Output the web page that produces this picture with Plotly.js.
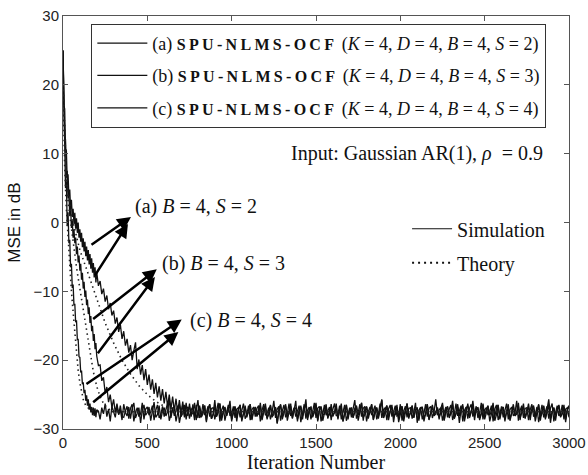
<!DOCTYPE html>
<html>
<head>
<meta charset="utf-8">
<script src="https://cdn.plot.ly/plotly-3.0.1.min.js"></script>
<style>html,body{margin:0;padding:0;background:#fff;}#chart{width:588px;height:475px;}</style>
</head>
<body>
<div id="chart"></div>
<script>
// Iteration numbers (early dense part and later part)
const iterEarly = [0,5,10,15,20,25,30,35,40,45,50,55,60,65,70,75,80,85,90,95,100,105,110,115,120,125,130,135,140,145,150,155,160,165,170,175,180,185,190,195,200];
const iterLate = [210,220,230,240,250,260,270,280,290,300,
310,320,330,340,350,360,370,380,390,400,
410,420,430,440,450,460,470,480,490,500,
510,520,530,540,550,560,570,580,590,600,
610,620,630,640,650,660,670,680,690,700,
710,720,730,740,750,760,770,780,790,800,
810,820,830,840,850,860,870,880,890,900,
910,920,930,940,950,960,970,980,990,1000,
1010,1020,1030,1040,1050,1060,1070,1080,1090,1100,
1110,1120,1130,1140,1150,1160,1170,1180,1190,1200,
1210,1220,1230,1240,1250,1260,1270,1280,1290,1300,
1310,1320,1330,1340,1350,1360,1370,1380,1390,1400,
1410,1420,1430,1440,1450,1460,1470,1480,1490,1500,
1510,1520,1530,1540,1550,1560,1570,1580,1590,1600,
1610,1620,1630,1640,1650,1660,1670,1680,1690,1700,
1710,1720,1730,1740,1750,1760,1770,1780,1790,1800,
1810,1820,1830,1840,1850,1860,1870,1880,1890,1900,
1910,1920,1930,1940,1950,1960,1970,1980,1990,2000,
2010,2020,2030,2040,2050,2060,2070,2080,2090,2100,
2110,2120,2130,2140,2150,2160,2170,2180,2190,2200,
2210,2220,2230,2240,2250,2260,2270,2280,2290,2300,
2310,2320,2330,2340,2350,2360,2370,2380,2390,2400,
2410,2420,2430,2440,2450,2460,2470,2480,2490,2500,
2510,2520,2530,2540,2550,2560,2570,2580,2590,2600,
2610,2620,2630,2640,2650,2660,2670,2680,2690,2700,
2710,2720,2730,2740,2750,2760,2770,2780,2790,2800,
2810,2820,2830,2840,2850,2860,2870,2880,2890,2900,
2910,2920,2930,2940,2950,2960,2970,2980,2990,3000];

// (a) S=2 simulation MSE (dB)
const simAEarly = [25,17,16.5,10.5,10.5,6,7,3.8,4.8,2,
3.3,0.8,2,-0.2,1.4,-0.9,0.6,-1.5,0,-2.2,
-1,-2.8,-1.5,-3.6,-2.3,-4.2,-2.8,-4.9,-3.5,-5.5,
-4,-6.1,-4.6,-6.7,-5.2,-7.3,-5.9,-8,-6.5,-8.7,-7.2];
const simALate = [-9.2,-8.5,-10.4,-9.6,-11.5,-10.6,-12.6,-11.7,-13.5,-12.8,
-14.7,-13.8,-15.9,-14.8,-16.9,-15.8,-17.9,-16.9,-18.9,-17.8,
-20.0,-18.6,-17.4,-21.3,-19.9,-22.1,-20.7,-22.9,-21.3,-23.6,
-22.1,-24.3,-22.8,-24.9,-23.3,-25.4,-23.8,-25.9,-24.2,-26.3,
-24.6,-26.7,-25.0,-27.1,-25.3,-27.4,-25.6,-27.6,-25.8,-27.8,
-26.0,-28.0,-26.2,-28.1,-26.3,-28.2,-26.4,-28.3,-26.5,-28.4,
-26.6,
-28.0,-27.5,-26.6,-28.8,-27.2,-26.4,-28.5,-27.9,-25.8,-28.2,
-27.6,-26.3,-28.4,-27.7,-26.8,-28.1,-27.0,-26.7,-28.9,-27.4,
-26.7,-28.9,-27.2,-26.5,-28.6,-27.8,-26.9,-28.0,-27.5,-26.4,
-28.5,-27.3,-26.8,-28.2,-27.1,-26.6,-28.7,-27.6,-26.3,-28.4,
-27.9,-26.6,-28.3,-27.4,-26.9,-29.2,-27.0,-26.5,-28.6,-27.7,
-26.4,-28.2,-27.8,-26.7,-28.5,-27.3,-25.9,-28.9,-27.1,-26.8,
-28.6,-27.0,-26.5,-28.4,-27.6,-26.8,-28.1,-27.4,-26.2,-28.7,
-27.2,-26.9,-28.8,-27.5,-26.6,-28.3,-27.9,-26.4,-28.0,-27.6,
-26.8,-28.4,-27.1,-26.3,-28.9,-27.7,-26.5,-28.6,-27.2,-26.9,
-28.3,-27.6,-26.7,-28.0,-27.4,-26.2,-28.8,-27.0,-26.8,-28.5,
-27.5,-26.4,-28.6,-27.8,-26.9,-28.2,-27.3,-25.7,-28.4,-27.1,
-26.6,-28.7,-27.4,-26.8,-28.1,-27.9,-26.5,-29.0,-27.6,-26.7,
-28.2,-27.1,-26.3,-28.5,-27.7,-26.6,-28.3,-27.2,-26.9,-28.8,
-27.0,-26.8,-28.9,-27.3,-26.4,-28.6,-27.5,-26.7,-28.1,-27.8,
-26.9,-28.3,-27.6,-26.5,-28.7,-27.1,-26.8,-28.4,-27.4,-25.9,
-28.5,-27.8,-26.4,-28.1,-27.2,-26.7,-28.9,-27.6,-26.3,-28.2,
-27.3,-26.6,-28.7,-27.0,-26.9,-28.4,-27.7,-26.5,-28.6,-27.5,
-26.7,-28.0,-27.4,-26.2,-28.8,-27.9,-26.6,-28.3,-27.1,-26.8,
-28.9,-27.5,-26.8,-28.6,-27.3,-26.4,-28.1,-27.8,-26.7,-28.4,
-27.6,-26.3,-28.5,-27.2,-26.9,-28.7,-27.0,-26.6,-28.2,-27.7,
-26.5,-28.8,-27.3,-26.7,-28.4,-27.6,-26.4,-29.1,-27.5,-26.9,
-28.0,-27.4,-26.6,-28.3,-27.8,-26.5,-28.6,-27.2,-26.8];

// (b) S=3 simulation MSE (dB)
const simBEarly = [25,20.5,12,12,6.5,7.5,3.5,4.5,1,2.2,
-0.8,0.3,-2.2,-1,-3,-2.2,-4.6,-3.5,-5.8,-4.8,
-7,-6,-8.3,-7.3,-9.6,-8.6,-10.8,-9.9,-12,-11.2,
-13.3,-12.3,-14.6,-13.6,-15.8,-15,-17.2,-16.2,-18.4,-17.5,-19.4];
const simBLate = [-20.8,-20.7,-23.0,-22.5,-24.8,-23.9,-26.1,-25.0,-26.9,-25.7,
-27.6,-26.3,-27.9,-26.6,-28.2,
-28.3,-27.4,-26.7,-28.5,-27.0,-26.4,-28.9,-27.6,-26.9,-28.2,
-27.8,-26.2,-28.6,-27.1,-26.8,-28.0,-27.5,-26.6,-28.7,-27.3,
-26.5,-28.4,-27.9,-26.7,-28.2,-27.2,-26.3,-28.8,-27.6,-26.9,
-28.1,-27.3,-26.6,-29.1,-27.7,-26.5,-28.3,-27.0,-26.8,-28.5,
-27.2,-26.8,-28.7,-27.5,-25.8,-28.4,-27.9,-26.4,-28.0,-27.6,
-26.7,-28.2,-27.0,-26.9,-28.6,-27.4,-26.2,-28.9,-27.3,-26.6,
-28.8,-27.6,-26.5,-28.1,-27.8,-26.7,-28.4,-27.1,-26.9,-28.3,
-27.4,-26.3,-28.5,-27.9,-26.6,-28.7,-27.2,-26.8,-28.2,-27.0,
-26.6,-28.9,-27.3,-26.4,-28.0,-27.7,-26.9,-28.6,-27.5,-25.9,
-28.4,-27.1,-26.7,-28.8,-27.4,-26.5,-28.3,-27.8,-26.3,-28.1,
-27.7,-26.9,-28.2,-27.2,-26.6,-29.0,-27.6,-26.4,-28.5,-27.3,
-26.8,-28.6,-27.5,-26.2,-28.4,-27.0,-26.7,-28.9,-27.8,-26.5,
-28.0,-27.4,-26.8,-28.7,-27.1,-26.3,-28.1,-27.9,-26.6,-28.6,
-27.3,-26.5,-28.8,-27.6,-26.9,-28.3,-27.2,-25.8,-28.5,-27.7,
-26.4,-28.2,-27.0,-26.7,-28.9,-27.5,-26.8,-28.0,-27.3,-26.6,
-28.6,-27.8,-26.3,-28.4,-27.2,-26.9,-28.7,-27.1,-26.5,-28.2,
-27.5,-26.6,-28.1,-27.9,-26.4,-28.8,-27.4,-26.7,-28.3,-27.0,
-26.9,-28.5,-27.6,-26.2,-29.1,-27.3,-26.8,-28.6,-27.7,-26.4,
-28.2,-27.0,-26.7,-28.4,-27.5,-25.7,-28.0,-27.2,-26.9,-28.8,
-27.6,-26.8,-28.3,-27.1,-26.5,-28.7,-27.8,-26.3,-28.1,-27.4,
-26.6,-28.9,-27.3,-26.8,-28.5,-27.0,-26.4,-28.2,-27.6,-26.7,
-28.4,-27.7,-26.2,-28.6,-27.2,-26.9,-28.0,-27.5,-26.6,-28.9,
-27.1,-26.5,-28.7,-27.8,-26.7,-28.3,-27.4,-26.3,-28.6,-27.2,
-26.8,-28.1,-27.6,-25.9,-28.8,-27.3,-26.6,-28.4,-27.0,-26.9,
-28.7,-27.2,-26.4,-28.2,-27.9,-26.8,-29.0,-27.5,-26.5,-28.3,
-27.4,-26.7,-28.5,-27.0,-26.3,-28.9,-27.7,-26.6,-28.1,-27.8,
-26.5,-28.6,-27.1,-26.9,-28.3];

// (c) S=4 simulation MSE (dB)
const simCEarly = [25,13,11.5,5,6,-0.5,1.5,-3,-2.5,-6.5,
-6,-9.5,-9,-12,-11.8,-14.5,-14.2,-17,-17,-19.5,
-19.6,-21.8,-21.5,-23.5,-23.2,-24.8,-24.3,-25.9,-25.1,-26.6,
-25.7,-27.2,-26.3,-27.6,-26.8,-28,-26.9,-28.1,-27,-28.3,-27.2];
const simCLate = [-27.4,-28.6,-26.9,-27.8,-26.3,-28.2,-27.1,-28.9,-26.7,-27.5,
-28.3,-26.6,-27.9,-27.2,-28.7,-26.4,-27.6,-28.1,-26.8,-28.5,
-27.0,-26.2,-28.4,-27.7,-26.9,-29.1,-27.3,-26.5,-28.0,-27.6,
-26.8,-28.8,-27.2,-26.1,-28.3,-27.9,-26.6,-28.6,-27.4,-26.9,
-28.1,-27.5,-25.6,-28.4,-27.0,-26.7,-28.9,-27.3,-26.4,-28.2,
-27.7,-26.5,-28.6,-27.1,-26.8,-28.0,-27.6,-26.2,-28.7,-27.4,
-26.9,-28.3,-27.8,-26.6,-29.0,-27.2,-26.4,-28.5,-27.9,-26.7,
-28.2,-27.0,-26.3,-28.8,-27.5,-26.9,-28.1,-27.3,-25.9,-28.6,
-27.6,-26.8,-28.4,-27.1,-26.5,-28.9,-27.7,-26.6,-28.3,-27.2,
-26.4,-28.7,-27.4,-26.9,-28.0,-27.8,-26.2,-28.5,-27.0,-26.7,
-28.6,-27.3,-26.5,-28.2,-27.9,-26.8,-29.2,-27.5,-26.4,-28.1,
-27.2,-26.7,-28.8,-27.6,-26.3,-28.4,-27.1,-26.9,-28.6,-27.8,
-26.6,-28.1,-27.4,-25.7,-28.7,-27.0,-26.8,-28.3,-27.6,-26.5,
-28.9,-27.2,-26.7,-28.0,-27.8,-26.4,-28.5,-27.3,-26.9,-28.2,
-27.5,-26.3,-28.6,-27.1,-26.8,-28.9,-27.7,-26.5,-28.1,-27.4,
-26.9,-28.4,-27.0,-26.6,-28.8,-27.5,-26.2,-28.3,-27.9,-26.7,
-28.0,-27.6,-26.4,-28.7,-27.2,-26.9,-28.5,-27.1,-25.8,-28.4,
-27.8,-26.6,-28.2,-27.4,-26.5,-29.0,-27.3,-26.8,-28.6,-27.0,
-26.7,-28.9,-27.5,-26.3,-28.1,-27.7,-26.6,-28.4,-27.2,-26.9,
-28.5,-27.1,-26.8,-28.3,-27.9,-26.4,-28.7,-27.6,-26.5,-28.0,
-27.3,-26.9,-28.6,-27.0,-26.2,-28.8,-27.4,-26.7,-28.2,-27.8,
-26.5,-28.3,-27.7,-26.8,-29.1,-27.2,-26.4,-28.5,-27.0,-26.6,
-28.4,-27.5,-25.9,-28.0,-27.3,-26.9,-28.7,-27.8,-26.3,-28.1,
-27.1,-26.6,-28.9,-27.6,-26.8,-28.2,-27.0,-26.5,-28.6,-27.4,
-26.8,-28.5,-27.2,-26.4,-28.8,-27.9,-26.7,-28.1,-27.5,-26.2,
-28.7,-27.0,-26.9,-28.4,-27.6,-26.3,-28.0,-27.3,-26.8,-28.9,
-27.6,-26.4,-28.2,-27.8,-26.6,-28.6,-27.1,-25.7,-28.3,-27.5,
-26.9,-28.8,-27.3,-26.5,-28.1,-27.7,-26.8,-29.0,-27.2,-26.6];

// Theory curves (dB)
const theoryAIter = [0,10,20,30,50,75,100,150,200,250,300,350,400,450,500,550,600,700,800,3000];
const theoryA = [20,12,7,4,1,-1.5,-4,-7.5,-11.2,-14.6,-17.5,-20,-22,-23.7,-25,-26,-26.7,-27.3,-27.5,-27.5];
const theoryBIter = [0,10,20,30,45,60,80,100,120,140,160,180,200,220,240,270,310,3000];
const theoryB = [20,12,6.5,3,0,-3,-6.5,-9.6,-12.7,-15.9,-18.9,-21.7,-23.8,-25.3,-26.3,-27.1,-27.5,-27.5];
const theoryCIter = [0,5,10,20,30,40,50,60,70,80,90,100,110,120,135,160,200,3000];
const theoryC = [20,13,8,2,-2.5,-6.5,-10,-13,-16,-19,-21.5,-23.3,-24.7,-25.7,-26.6,-27.2,-27.5,-27.5];

const caseLabels = ['(a)', '(b)', '(c)'];
const sValues = [2, 3, 4];

const SERIF = 'Liberation Serif, Times New Roman, serif';
const SANS = 'Liberation Sans, Arial, sans-serif';
const simLine = {color: '#111', width: 1.3};
const thLine = {color: '#222', width: 1.6, dash: '1.5px,3.5px'};

function legendName(i) {
  return caseLabels[i] + ' <span style="font-weight:bold;letter-spacing:3.3px;font-size:16px">SPU-NLMS-OCF</span> (<i>K</i> = 4, <i>D</i> = 4, <i>B</i> = 4, <i>S</i> = ' + sValues[i] + ')';
}

const iters = iterEarly.concat(iterLate);
const traces = [
  {x: iters, y: simAEarly.concat(simALate), mode: 'lines', line: simLine, name: legendName(0), legendgroup: 'a'},
  {x: iters, y: simBEarly.concat(simBLate), mode: 'lines', line: simLine, name: legendName(1), legendgroup: 'b'},
  {x: iters, y: simCEarly.concat(simCLate), mode: 'lines', line: simLine, name: legendName(2), legendgroup: 'c'},
  {x: theoryAIter, y: theoryA, mode: 'lines', line: thLine, showlegend: false},
  {x: theoryBIter, y: theoryB, mode: 'lines', line: thLine, showlegend: false},
  {x: theoryCIter, y: theoryC, mode: 'lines', line: thLine, showlegend: false},
  {x: [null], y: [null], mode: 'lines', line: {color: '#111', width: 1.1}, name: 'Simulation', legend: 'legend2', legendgroup: 'sim'},
  {x: [null], y: [null], mode: 'lines', line: {color: '#111', width: 2, dash: '2px,4px'}, name: 'Theory', legend: 'legend2', legendgroup: 'th'}
];

const arrowStyle = {xref: 'x', yref: 'y', axref: 'x', ayref: 'y', showarrow: true, arrowhead: 2, arrowsize: 1.1, arrowwidth: 2.5, arrowcolor: '#000', text: ''};
const labelFont = {family: SERIF, size: 20, color: '#111'};
const annotations = [
  Object.assign({x: 403, y: 0.8, ax: 160, ay: -3.4}, arrowStyle),
  Object.assign({x: 385, y: -0.2, ax: 184, ay: -7.9}, arrowStyle),
  Object.assign({x: 556, y: -6.8, ax: 170, ay: -14.2}, arrowStyle),
  Object.assign({x: 545, y: -7.9, ax: 200, ay: -19.2}, arrowStyle),
  Object.assign({x: 704, y: -14.1, ax: 130, ay: -23.6}, arrowStyle),
  Object.assign({x: 684, y: -15.9, ax: 170, ay: -26.3}, arrowStyle),
  {xref: 'x', yref: 'y', x: 415, y: 2.3, xanchor: 'left', yanchor: 'middle', showarrow: false, text: caseLabels[0] + ' <i>B</i> = 4, <i>S</i> = ' + sValues[0], font: labelFont},
  {xref: 'x', yref: 'y', x: 575, y: -5.9, xanchor: 'left', yanchor: 'middle', showarrow: false, text: caseLabels[1] + ' <i>B</i> = 4, <i>S</i> = ' + sValues[1], font: labelFont},
  {xref: 'x', yref: 'y', x: 741, y: -14.2, xanchor: 'left', yanchor: 'middle', showarrow: false, text: caseLabels[2] + ' <i>B</i> = 4, <i>S</i> = ' + sValues[2], font: labelFont},
  {xref: 'x', yref: 'y', x: 2858, y: 10, xanchor: 'right', yanchor: 'middle', showarrow: false, text: 'Input: Gaussian AR(1), <i>ρ</i>  = 0.9', font: {family: SERIF, size: 20, color: '#111'}}
];

const axisCommon = {
  showline: true, linecolor: '#555', linewidth: 1, mirror: 'ticks',
  ticks: 'inside', ticklen: 5, tickcolor: '#555',
  showgrid: false, zeroline: false,
  tickfont: {family: SANS, size: 15, color: '#222'}
};

const layout = {
  width: 588, height: 475,
  margin: {l: 63, r: 19, t: 16, b: 46},
  paper_bgcolor: '#fff', plot_bgcolor: '#fff',
  showlegend: true,
  xaxis: Object.assign({}, axisCommon, {range: [0, 3000], dtick: 500, tick0: 0,
    title: {text: 'Iteration Number', font: {family: SERIF, size: 20, color: '#111'}, standoff: 0}}),
  yaxis: Object.assign({}, axisCommon, {range: [-30, 30], dtick: 10, tick0: 0,
    title: {text: 'MSE in dB', font: {family: SANS, size: 17, color: '#111'}, standoff: 8}}),
  legend: {x: 0.056, y: 0.981, xanchor: 'left', yanchor: 'top', bordercolor: '#333', borderwidth: 1,
    bgcolor: '#fff', font: {family: SERIF, size: 18, color: '#111'}, itemwidth: 50, tracegroupgap: 6, traceorder: 'grouped'},
  legend2: {x: 0.68, y: 0.532, xanchor: 'left', yanchor: 'top', borderwidth: 0, bgcolor: 'rgba(0,0,0,0)',
    font: {family: SERIF, size: 20, color: '#111'}, itemwidth: 40, tracegroupgap: 5, traceorder: 'grouped'},
  annotations: annotations
};

Plotly.newPlot('chart', traces, layout, {displayModeBar: false, staticPlot: true});
</script>
</body>
</html>
